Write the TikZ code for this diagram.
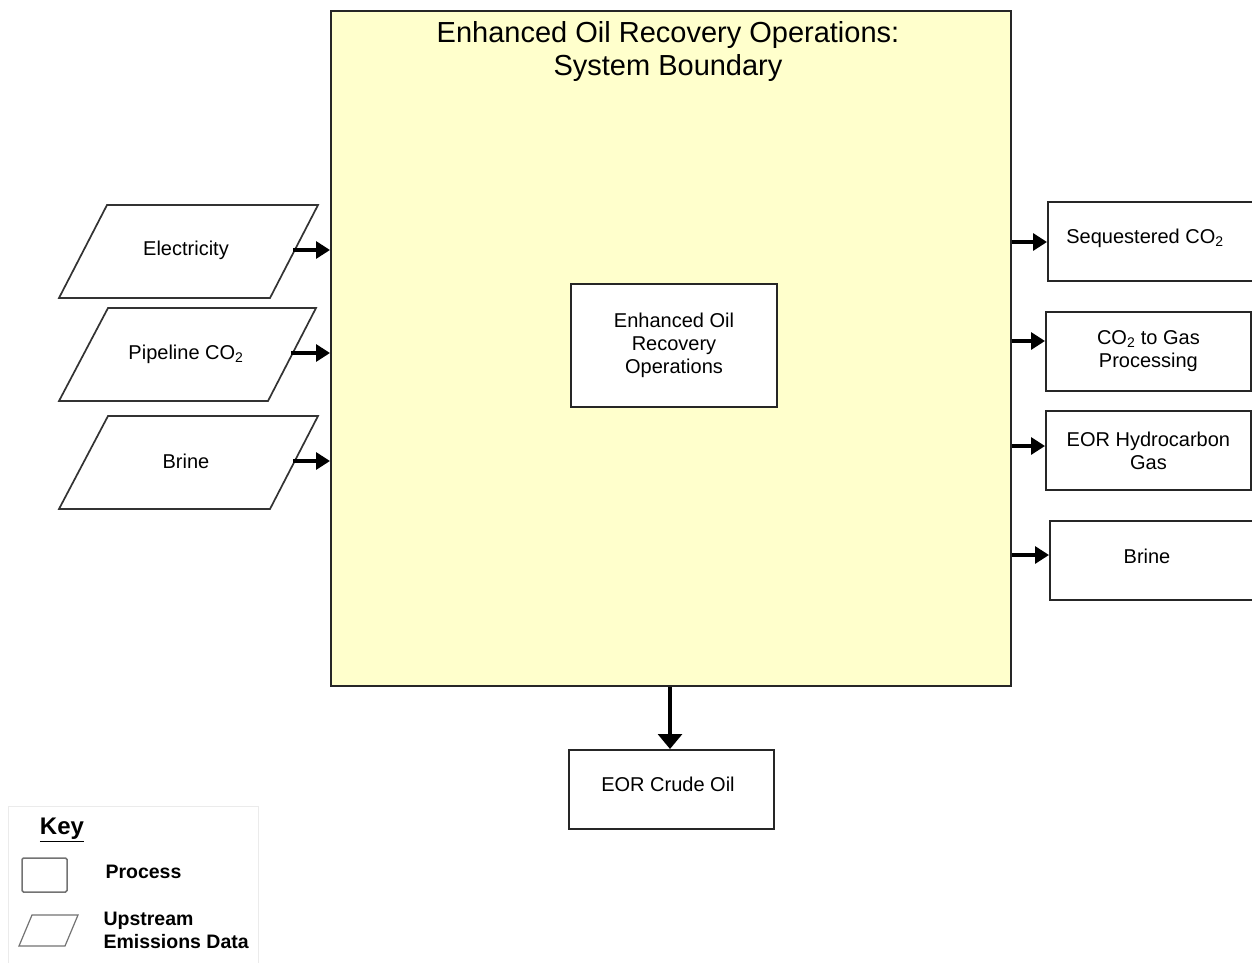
\documentclass[tikz,border=0pt]{standalone}
\usepackage{fontspec}
\setmainfont{Liberation Sans}
\usetikzlibrary{arrows.meta}
\definecolor{sysyellow}{HTML}{FFFFCC}
\tikzset{
  procbox/.style={draw=black!85, line width=1.8pt, fill=white, align=center, inner sep=0pt,
    font=\fontsize{20}{23}\selectfont},
  databox/.style={draw=black!80, line width=1.7pt, fill=white},
  flow/.style={line width=3.2pt, -{Triangle[length=14pt,width=17pt]}},
  bigflow/.style={line width=3.2pt, -{Triangle[length=15pt,width=24pt]}},
  lbl/.style={align=center, font=\fontsize{20}{23}\selectfont},
}
\begin{document}
\begin{tikzpicture}[x=1pt,y=-1pt]
\useasboundingbox (0,0) rectangle (1252,963);
\fill[white] (0,0) rectangle (1252,963);
% system boundary
\node[draw=black!85, line width=1.8pt, fill=sysyellow, minimum width=680pt, minimum height=675pt, inner sep=0pt, anchor=north west] (sys) at (330,10) {};
\node[align=center, font=\fontsize{29}{33}\selectfont] (title) at (668,52) {Enhanced Oil Recovery Operations:\\System Boundary};
% inner process
\node[procbox, minimum width=206pt, minimum height=123pt] (eor) at (674,345.5) {Enhanced Oil\\Recovery\\Operations};
% left data parallelograms
\draw[databox] (107,205) -- (318,205) -- (270,298) -- (59,298) -- cycle;
\node[lbl] (elec) at (186,250) {Electricity};
\coordinate (elecE) at (293,250);
\draw[databox] (108,308) -- (316,308) -- (268,401) -- (59,401) -- cycle;
\node[lbl] (pipe) at (186,354) {Pipeline CO\textsubscript{2}};
\coordinate (pipeE) at (291,353);
\draw[databox] (108,416) -- (318,416) -- (270,509) -- (59,509) -- cycle;
\node[lbl] (brinein) at (186,461) {Brine};
\coordinate (brineinE) at (293,461);
\draw[flow] (elecE) -- (elecE -| sys.west);
\draw[flow] (pipeE) -- (pipeE -| sys.west);
\draw[flow] (brineinE) -- (brineinE -| sys.west);
% right outputs
\node[procbox, minimum width=206pt, minimum height=79pt, anchor=north west] (seq) at (1047,201) {};
\node[lbl] at (1145,238) {Sequestered CO\textsubscript{2}};
\node[procbox, minimum width=205pt, minimum height=79pt, anchor=north west] (gasproc) at (1045,311) {CO\textsubscript{2} to Gas\\Processing};
\node[procbox, minimum width=205pt, minimum height=79pt, anchor=north west] (hcgas) at (1045,410) {EOR Hydrocarbon\\Gas};
\node[procbox, minimum width=205pt, minimum height=79pt, anchor=north west] (brineout) at (1049,520) {};
\node[lbl] at (1147,556) {Brine};
\draw[flow] (sys.east |- 0,242) -- (seq.west |- 0,242);
\draw[flow] (sys.east |- 0,341) -- (gasproc.west |- 0,341);
\draw[flow] (sys.east |- 0,446) -- (hcgas.west |- 0,446);
\draw[flow] (sys.east |- 0,555) -- (brineout.west |- 0,555);
% crude oil
\node[procbox, minimum width=205pt, minimum height=79pt, anchor=north west] (crude) at (568,749) {};
\node[lbl] at (668,784) {EOR Crude Oil};
\draw[bigflow] (sys.south -| 670,0) -- (crude.north -| 670,0);
% key
\node[draw=black!8, line width=1pt, minimum width=250pt, minimum height=160pt, anchor=north west, inner sep=0pt] (key) at (8,806) {};
\node[font=\fontsize{24}{26}\selectfont\bfseries] (keyt) at (62,830) {\underline{Key}};
\draw[draw=black!55, line width=1.5pt, rounded corners=1.5pt] (22,858) rectangle (67,892);
\node[font=\fontsize{19.5}{22}\selectfont\bfseries, anchor=west] (kproc) at (102,872) {Process};
\draw[draw=black!55, line width=1.2pt] (32,915) -- (78,915) -- (65,946) -- (19,946) -- cycle;
\node[font=\fontsize{19.5}{23}\selectfont\bfseries, anchor=west, align=left] (kup) at (100,930) {Upstream\\Emissions Data};
\end{tikzpicture}
\end{document}
